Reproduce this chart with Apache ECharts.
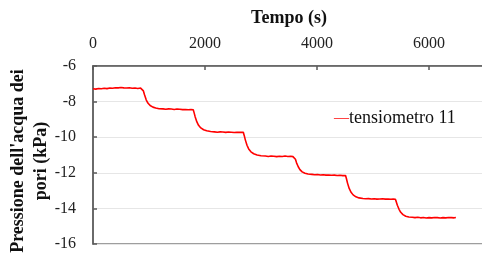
<!DOCTYPE html>
<html>
<head>
<meta charset="utf-8">
<script src="https://cdn.jsdelivr.net/npm/echarts@6/dist/echarts.min.js"></script>
<style>
  html, body { margin: 0; padding: 0; background: #fff; }
  #chart { width: 482px; height: 256px; }
</style>
</head>
<body>
<div id="chart"></div>
<script>
  // tempo (s)
  var tempo = [
    0, 50, 100, 150, 200, 250, 300, 350, 400, 450, 500, 550, 600, 650, 700, 750, 800, 850, 885,
    900, 920, 950, 980, 1020, 1070, 1120, 1180, 1250,
    1300, 1350, 1400, 1450, 1500, 1550, 1600, 1650, 1700, 1750, 1790,
    1805, 1825, 1855, 1885, 1925, 1975, 2030, 2100, 2170,
    2220, 2270, 2320, 2370, 2420, 2470, 2520, 2570, 2620, 2684,
    2700, 2720, 2750, 2780, 2820, 2870, 2930, 3000, 3080,
    3130, 3180, 3230, 3280, 3330, 3380, 3430, 3480, 3530, 3570, 3600,
    3615, 3635, 3665, 3695, 3735, 3785, 3840, 3910,
    3960, 4010, 4060, 4110, 4160, 4210, 4260, 4310, 4360, 4410, 4460, 4510,
    4525, 4545, 4575, 4605, 4645, 4695, 4750, 4820,
    4870, 4920, 4970, 5020, 5070, 5120, 5170, 5220, 5270, 5320, 5360, 5400,
    5415, 5435, 5465, 5495, 5535, 5585, 5640, 5700,
    5750, 5800, 5850, 5900, 5950, 6000, 6050, 6100, 6150, 6200, 6250, 6300, 6350, 6400, 6450, 6480
  ];

  // tensiometro 11 (kPa)
  var tensiometro11 = [
    -7.28, -7.30, -7.26, -7.28, -7.25, -7.27, -7.24, -7.25, -7.22, -7.23, -7.21, -7.23, -7.24, -7.22, -7.25, -7.24, -7.26, -7.24, -7.25,
    -7.40, -7.62, -7.90, -8.08, -8.22, -8.31, -8.36, -8.40, -8.41,
    -8.43, -8.41, -8.42, -8.44, -8.42, -8.43, -8.45, -8.44, -8.46, -8.45, -8.46,
    -8.62, -8.86, -9.14, -9.33, -9.48, -9.58, -9.64, -9.68, -9.70,
    -9.72, -9.70, -9.71, -9.73, -9.71, -9.72, -9.74, -9.72, -9.73, -9.72,
    -9.90, -10.15, -10.45, -10.66, -10.82, -10.93, -11.00, -11.04, -11.06,
    -11.08, -11.06, -11.07, -11.09, -11.07, -11.08, -11.06, -11.08, -11.07, -11.09, -11.08,
    -11.24, -11.44, -11.66, -11.82, -11.95, -12.03, -12.07, -12.09,
    -12.11, -12.10, -12.12, -12.11, -12.13, -12.12, -12.14, -12.13, -12.15, -12.14, -12.16, -12.15,
    -12.32, -12.58, -12.88, -13.08, -13.24, -13.35, -13.41, -13.44,
    -13.46, -13.45, -13.47, -13.46, -13.48, -13.47, -13.46, -13.48, -13.47, -13.49, -13.48, -13.49,
    -13.62, -13.82, -14.05, -14.22, -14.35, -14.44, -14.48, -14.50,
    -14.52, -14.50, -14.53, -14.51, -14.54, -14.52, -14.53, -14.51, -14.52, -14.54, -14.52, -14.53, -14.51, -14.52, -14.53, -14.51
  ];

  var serieName = 'tensiometro 11';
  var nomeX = 'Tempo (s)';
  var nomeY = "Pressione dell'acqua dei\npori (kPa)";

  var font = '"Liberation Serif", "DejaVu Serif", serif';

  var punti = [];
  for (var i = 0; i < tempo.length; i++) {
    punti.push([tempo[i], tensiometro11[i]]);
  }

  var chart = echarts.init(document.getElementById('chart'), null, { renderer: 'canvas' });

  var option = {
    animation: false,
    backgroundColor: '#fff',
    textStyle: { fontFamily: font },
    grid: {
      left: 93,
      top: 66,
      bottom: 12,
      right: -3,
      outerBoundsMode: 'none',
      containLabel: false,
      show: true,
      borderColor: '#7f7f7f',
      borderWidth: 1.5,
      backgroundColor: 'transparent'
    },
    legend: {
      left: 324,
      top: 104,
      icon: 'none',
      itemWidth: 0,
      itemGap: 0,
      data: [serieName],
      formatter: function (name) { return '{d|\u2014}{t|' + name + '}'; },
      textStyle: {
        fontFamily: font,
        rich: {
          d: { color: '#ff0000', fontSize: 15, fontFamily: font },
          t: { color: '#111', fontSize: 18, fontFamily: font }
        }
      }
    },
    xAxis: {
      type: 'value',
      position: 'top',
      min: 0,
      max: 7000,
      interval: 2000,
      name: nomeX,
      nameLocation: 'middle',
      nameGap: 39,
      nameTextStyle: { fontFamily: font, fontWeight: 'bold', fontSize: 18, color: '#111' },
      axisLine: { show: true, lineStyle: { color: '#595959', width: 1.5 } },
      axisTick: { show: true, inside: true, length: 4, lineStyle: { color: '#595959', width: 1.5 } },
      axisLabel: {
        fontFamily: font, fontSize: 16, color: '#222', margin: 14, showMaxLabel: false,
        formatter: function (v) { return String(v); }
      },
      splitLine: { show: false }
    },
    yAxis: {
      type: 'value',
      min: -16,
      max: -6,
      interval: 2,
      name: nomeY,
      nameLocation: 'middle',
      nameRotate: 90,
      nameGap: 40,
      nameMoveOverlap: false,
      nameTextStyle: {
        fontFamily: font, fontWeight: 'bold', fontSize: 18, color: '#111',
        lineHeight: 23, align: 'center', padding: [0, 12, 0, 0]
      },
      axisLine: { show: true, lineStyle: { color: '#595959', width: 1.5 } },
      axisTick: { show: true, inside: true, length: 4, lineStyle: { color: '#595959', width: 1.5 } },
      axisLabel: { fontFamily: font, fontSize: 16, color: '#222', margin: 17 },
      splitLine: { show: true, lineStyle: { color: '#e6e6e6', width: 1 } }
    },
    series: [
      {
        name: serieName,
        type: 'line',
        showSymbol: false,
        data: punti,
        lineStyle: { color: '#ff0000', width: 1.6 },
        itemStyle: { color: '#ff0000' }
      }
    ]
  };

  chart.setOption(option);
</script>
</body>
</html>
